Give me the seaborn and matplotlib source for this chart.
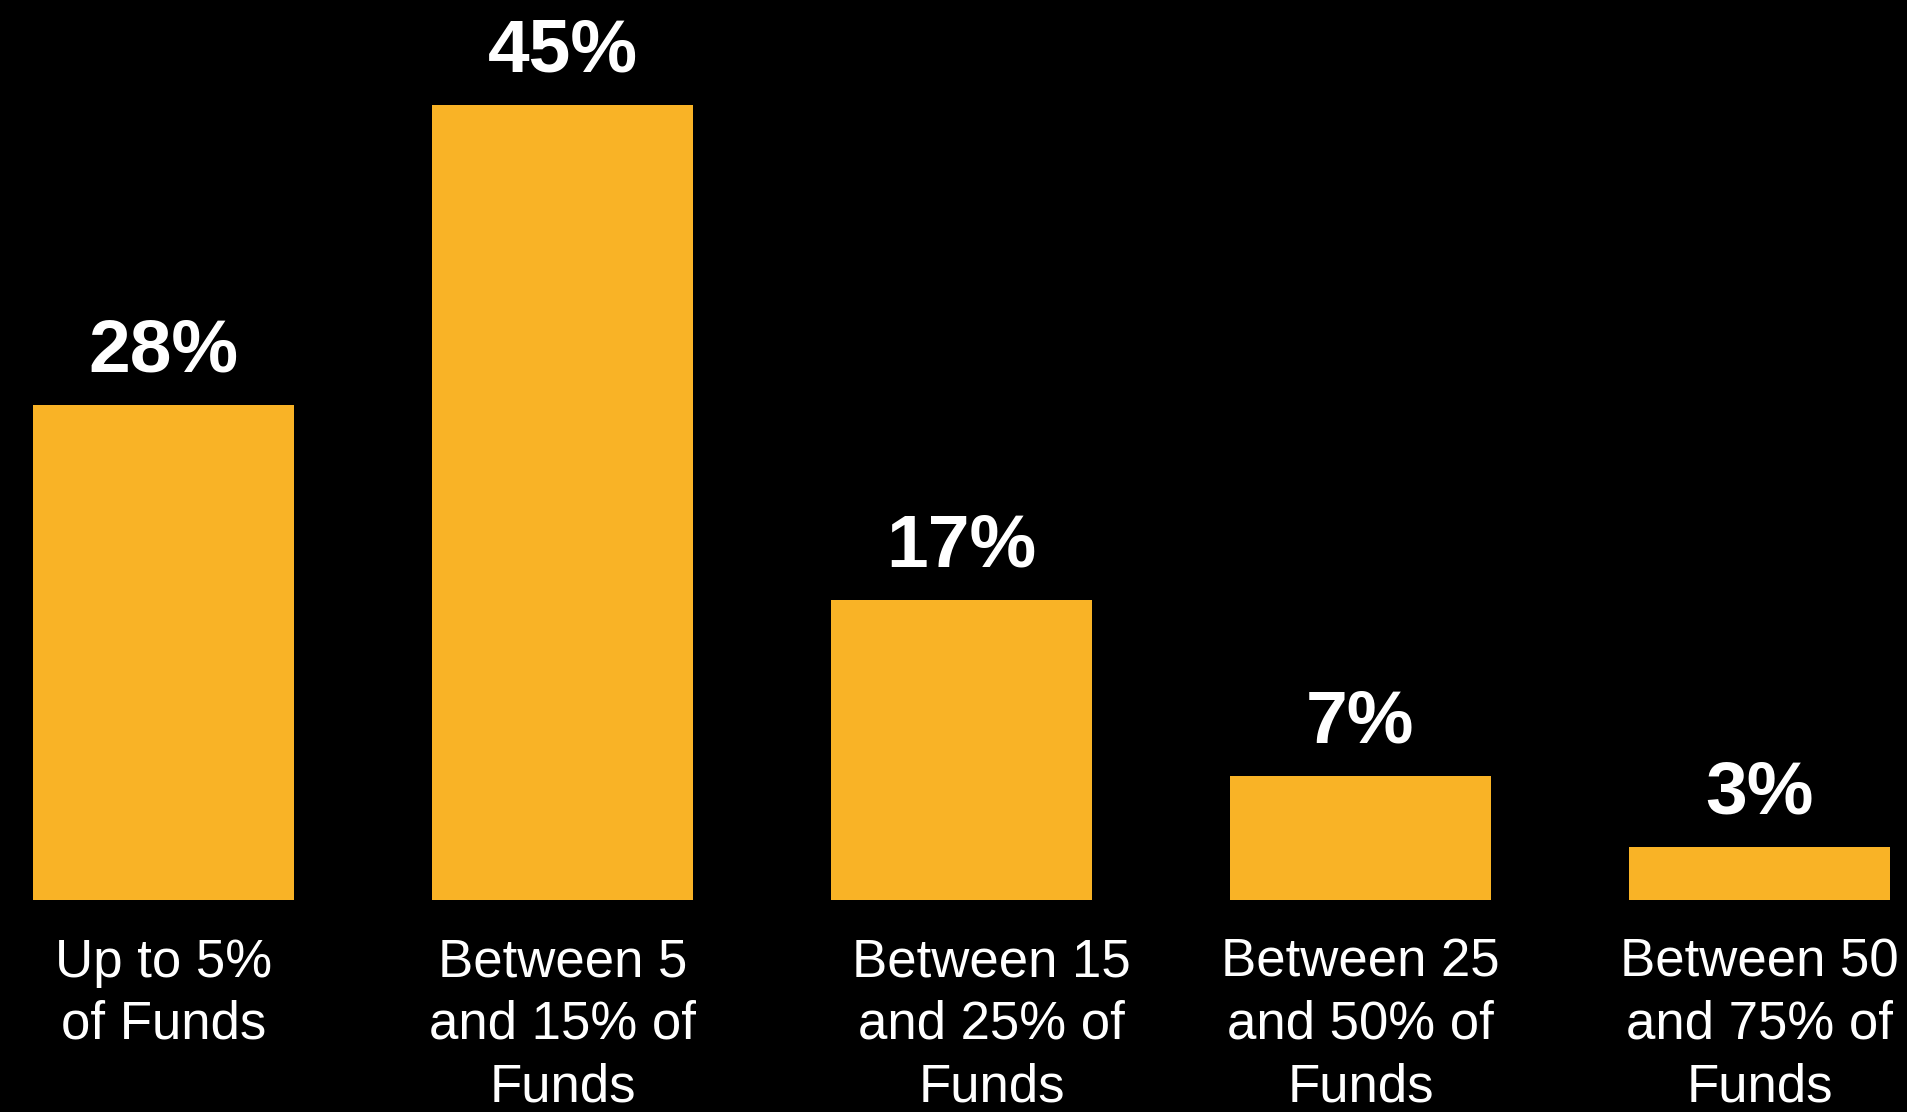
import matplotlib
matplotlib.use("Agg")
import matplotlib.pyplot as plt
import matplotlib.transforms as mtransforms
import seaborn as sns

categories = [
    "Up to 5%\nof Funds",
    "Between 5\nand 15% of\nFunds",
    "Between 15\nand 25% of\nFunds",
    "Between 25\nand 50% of\nFunds",
    "Between 50\nand 75% of\nFunds",
]
shares = [28, 45, 17, 7, 3]
share_labels = [f"{v}%" for v in shares]

BAR_COLOR = "#F9B326"
BG = "#000000"


def setup_style():
    sns.set_theme(style="dark")
    plt.rcParams["font.family"] = ["Liberation Sans", "DejaVu Sans"]
    plt.rcParams.update(
        {
            "figure.facecolor": BG,
            "axes.facecolor": BG,
            "savefig.facecolor": BG,
        }
    )


def main():
    setup_style()
    fig = plt.figure(figsize=(19.07, 11.12), dpi=100)
    # axes spans full width, bottom edge is the bar baseline
    ax = fig.add_axes([0, 212 / 1112, 1, 900 / 1112])

    sns.barplot(
        x=categories,
        y=shares,
        color=BAR_COLOR,
        saturation=1,
        width=0.656,
        linewidth=0,
        ax=ax,
    )

    ax.set_xlim(-0.41, 4.37)
    ax.set_ylim(0, 50.94)
    ax.set_yticks([])
    ax.set_ylabel("")
    for spine in ax.spines.values():
        spine.set_visible(False)
    ax.grid(False)

    ax.tick_params(axis="x", length=0, pad=27, colors="white", labelsize=38)
    for lbl in ax.get_xticklabels():
        lbl.set_linespacing(1.32)
        lbl.set_color("white")
    # third label sits a little right of its bar in the original
    third = ax.get_xticklabels()[2]
    third.set_transform(
        third.get_transform() + mtransforms.ScaledTranslation(30 / 100, 0, fig.dpi_scale_trans)
    )

    for i, (v, txt) in enumerate(zip(shares, share_labels)):
        ax.annotate(
            txt,
            xy=(i, v),
            xytext=(0, 24),
            textcoords="offset points",
            ha="center",
            va="baseline",
            fontsize=54,
            fontweight="bold",
            color="white",
        )

    fig.savefig("out.png", dpi=100, facecolor=BG)
    plt.close(fig)


if __name__ == "__main__":
    main()
